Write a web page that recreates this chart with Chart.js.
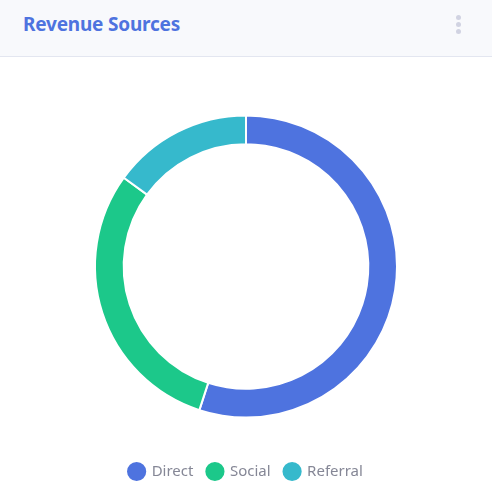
<!DOCTYPE html>
<html>
<head>
<meta charset="utf-8">
<script src="https://cdn.jsdelivr.net/npm/chart.js@4.4.0/dist/chart.umd.min.js"></script>
<style>
  html, body { margin: 0; padding: 0; background: #fff; }
  body { width: 492px; height: 503px; position: relative; overflow: hidden; font-family: "Noto Sans", sans-serif; }
  .hdr { position: absolute; left: 0; top: 0; width: 492px; height: 57px; background: #f8f9fc; border-bottom: 1px solid #e3e6f0; box-sizing: border-box; }
  .title { position: absolute; left: 23px; top: 11px; font-size: 19px; font-weight: 700; color: #4e73df; font-family: "Noto Sans", sans-serif; letter-spacing: -0.2px; }
  .dots { position: absolute; left: 456px; top: 15px; width: 6px; }
  .dots span { display: block; width: 5px; height: 5px; border-radius: 50%; background: #d1d3e2; margin-bottom: 2px; }
  .wrap { position: absolute; left: 0; top: 57px; width: 492px; height: 446px; }
</style>
</head>
<body>
<div class="hdr">
  <div class="title">Revenue Sources</div>
  <div class="dots"><span></span><span></span><span></span></div>
</div>
<div class="wrap"><canvas id="c"></canvas></div>
<script>
const categories = ["Direct", "Social", "Referral"];
const values = [55, 30, 15];
const colors = ["#4e73df", "#1cc88a", "#36b9cc"];

new Chart(document.getElementById('c'), {
  type: 'doughnut',
  data: {
    labels: categories,
    datasets: [{
      data: values,
      backgroundColor: colors,
      borderColor: '#ffffff',
      borderWidth: 2,
      hoverOffset: 0
    }]
  },
  options: {
    responsive: true,
    maintainAspectRatio: false,
    animation: false,
    cutout: '81%',
    layout: { padding: { top: 26, bottom: 14, left: 94, right: 94 } },
    plugins: {
      tooltip: { enabled: false },
      legend: {
        display: true,
        position: 'bottom',
        labels: {
          usePointStyle: true,
          pointStyle: 'circle',
          boxWidth: 15,
          boxHeight: 15,
          padding: 14,
          color: '#858796',
          font: { family: '"Noto Sans", sans-serif', size: 15 }
        }
      }
    }
  }
});
</script>
</body>
</html>
